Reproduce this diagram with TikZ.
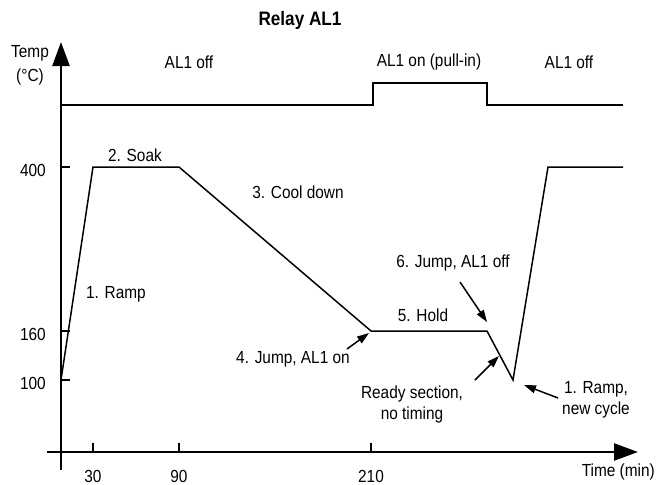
\documentclass[tikz,border=0pt]{standalone}
\usepackage{fontspec}
\setmainfont[FakeStretch=0.88]{Liberation Sans}
\usetikzlibrary{arrows.meta}

\begin{document}
\begin{tikzpicture}[x=1pt,y=-1pt,
    lbl/.style={font=\fontsize{17.5}{21}\selectfont, align=center, inner sep=0pt},
    axis/.style={line width=2.5pt, -{Triangle[length=24pt,width=17pt]}},
    curve/.style={line width=1.5pt, line join=miter},
    pointer/.style={line width=1.5pt, -{Triangle[length=12pt,width=8pt]}}]
\useasboundingbox (0,0) rectangle (657,485);

% axes and ticks
\coordinate (ybot) at (61,470);
\coordinate (ytop) at (61,42);
\coordinate (xleft) at (47,452);
\coordinate (xright) at (638,452);
\draw[axis] (ybot) -- (ytop);
\draw[axis] (xleft) -- (xright);
\foreach \x/\t in {93/30, 179/90, 371/210} {
    \draw[line width=1.5pt] (\x,452) -- (\x,443);
    \node[lbl] (t\t) at (\x,476) {\t};
}
\foreach \y/\t in {167/400, 331/160, 380/100} {
    \draw[line width=1.5pt] (61,\y) -- (70,\y);
    \node[lbl, anchor=east] (v\t) at (46,\y+3) {\t};
}
\node[lbl] (temp) at (30,53) {Temp};
\node[lbl] (unit) at (30,77) {(°C)};
\node[lbl, anchor=east] (time) at (655,472) {Time (min)};

% relay state
\node[font=\fontsize{19.5}{23}\selectfont\bfseries, inner sep=0pt] (title) at (300,20) {Relay AL1};
\draw[curve] (61,105) -- (373,105) -- (373,83) -- (487,83) -- (487,105) -- (623,105);
\node[lbl] (offA) at (189,62) {AL1 off};
\node[lbl] (on) at (429,62) {AL1 on (pull-in)};
\node[lbl] (offB) at (569,62) {AL1 off};

% temperature profile
\coordinate (start) at (61,380);
\coordinate (soakA) at (93,167);
\coordinate (soakB) at (179,167);
\coordinate (holdA) at (371,331);
\coordinate (holdB) at (487,331);
\coordinate (low) at (513,380);
\coordinate (top) at (548,167);
\coordinate (fin) at (623,167);
\draw[curve] (start) -- (soakA) -- (soakB) -- (holdA) -- (holdB) -- (low) -- (top) -- (fin);

\node[lbl] (ramp) at (116,294) {1. Ramp};
\node[lbl] (soak) at (135,155) {2. Soak};
\node[lbl] (cool) at (298,192) {3. Cool down};
\node[lbl] (jumpon) at (293,359) {4. Jump, AL1 on};
\node[lbl] (hold) at (423,315) {5. Hold};
\node[lbl] (jumpoff) at (453,263) {6. Jump, AL1 off};
\node[lbl] (ready) at (412,404) {Ready section,\\no timing};
\node[lbl] (newramp) at (596,400) {1. Ramp,\\new cycle};

% pointers
\coordinate (onT) at (347,349);
\coordinate (onH) at (369,333);
\coordinate (offT) at (460,282);
\coordinate (offH) at (487,322);
\coordinate (readyT) at (475,380);
\coordinate (readyH) at (499,356);
\coordinate (newT) at (558,398);
\coordinate (newH) at (524,385);
\draw[pointer] (onT) -- (onH);
\draw[pointer] (offT) -- (offH);
\draw[pointer] (readyT) -- (readyH);
\draw[pointer] (newT) -- (newH);
\end{tikzpicture}
\end{document}
